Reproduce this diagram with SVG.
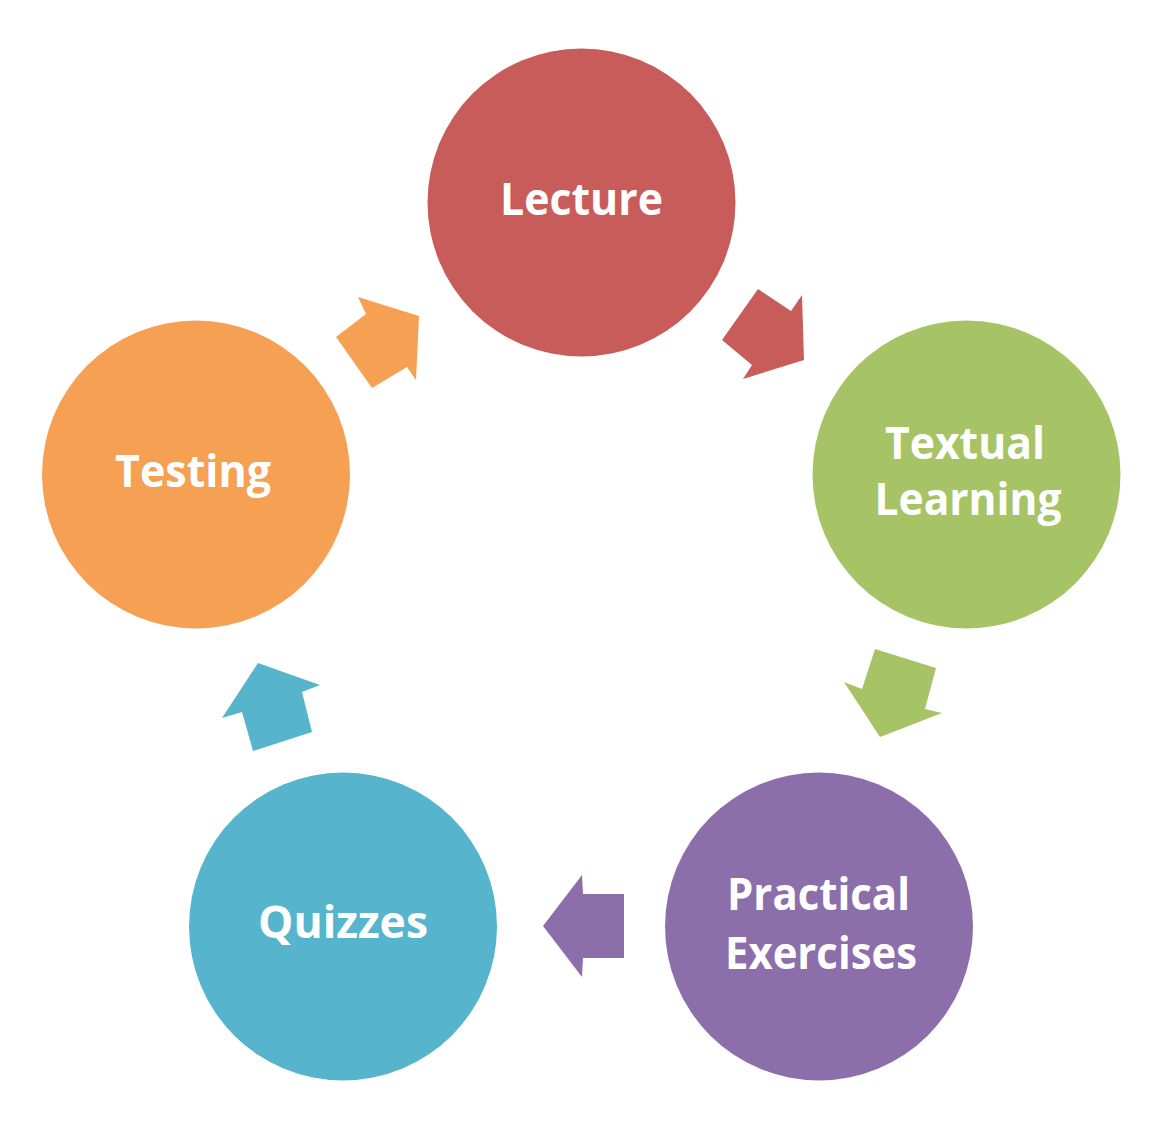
<svg xmlns="http://www.w3.org/2000/svg" width="1172" height="1128" viewBox="0 0 1172 1128">
<style>
.lbl{font-family:"Open Sans","Liberation Sans",sans-serif;font-weight:bold;font-size:45px;fill:#ffffff;text-anchor:middle}
</style>
<rect width="1172" height="1128" fill="#ffffff"/>
<g id="connectors">
<polygon fill="#C85C5A" points="758,289 791,311 802,295 804,360 743,379 752,365 722,340"/>
<polygon fill="#A6C466" points="875,649 936,668 925,709 942,713 880,737 844,682 862,689"/>
<polygon fill="#8C6FAA" points="543,926 582,875 583,894 624,894 624,958 583,958 582,977"/>
<polygon fill="#56B4CD" points="258,663 320,685 302,692 312,732 253,751 242,712 222,718"/>
<polygon fill="#F6A053" points="358,297 419,316 416,380 407,367 372,388 336,337 366,314"/>
</g>
<g id="lecture">
<circle cx="581.5" cy="202.5" r="154" fill="#C85C5A"/>
<text class="lbl" x="581.5" y="215" textLength="163" lengthAdjust="spacingAndGlyphs">Lecture</text>
</g>
<g id="textual-learning">
<circle cx="966.5" cy="474.5" r="154" fill="#A6C466"/>
<text class="lbl" x="965" y="459" textLength="160" lengthAdjust="spacingAndGlyphs">Textual</text>
<text class="lbl" x="968" y="515" textLength="187" lengthAdjust="spacingAndGlyphs">Learning</text>
</g>
<g id="practical-exercises">
<circle cx="819" cy="926.5" r="154" fill="#8C6FAA"/>
<text class="lbl" x="818.5" y="910" textLength="183" lengthAdjust="spacingAndGlyphs">Practical</text>
<text class="lbl" x="821" y="969" textLength="192" lengthAdjust="spacingAndGlyphs">Exercises</text>
</g>
<g id="quizzes">
<circle cx="343" cy="926.5" r="154" fill="#56B4CD"/>
<text class="lbl" x="343" y="938" textLength="170" lengthAdjust="spacingAndGlyphs">Quizzes</text>
</g>
<g id="testing">
<circle cx="196" cy="474.5" r="154" fill="#F6A053"/>
<text class="lbl" x="193" y="487" textLength="156" lengthAdjust="spacingAndGlyphs">Testing</text>
</g>
</svg>
